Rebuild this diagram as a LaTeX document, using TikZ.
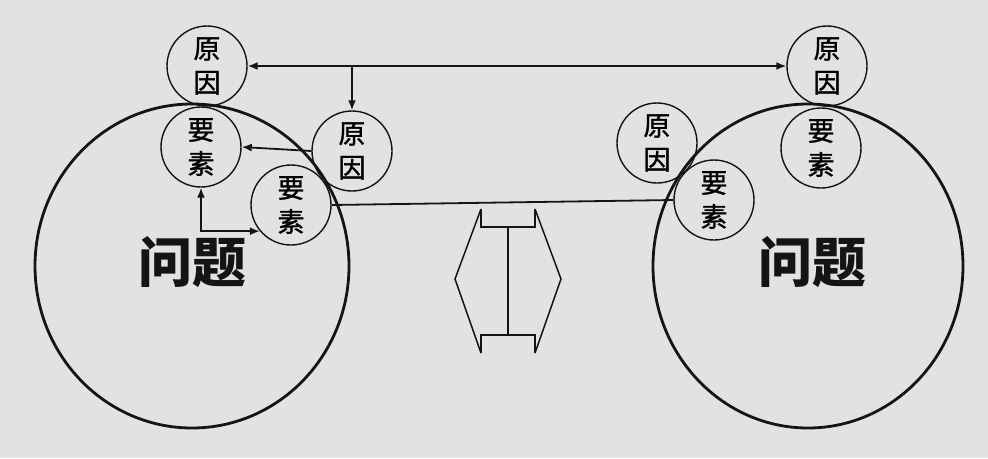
\documentclass[tikz,border=0pt]{standalone}
\usepackage{fontspec}
\newfontfamily\cjk{Noto Sans CJK SC}
\newfontfamily\cjkm[FakeBold=1.2]{Noto Sans CJK SC}
\usetikzlibrary{arrows.meta,shapes.geometric}
\definecolor{bg}{RGB}{226,226,226}
\definecolor{ink}{RGB}{20,20,20}
\tikzset{
  big/.style={draw=ink,ellipse,line width=2.8pt,minimum width=#1,minimum height=324pt,inner sep=0pt},
  small/.style={draw=ink,circle,line width=1.4pt,minimum size=80pt,inner sep=0pt,align=center,
    font=\cjkm\fontsize{27}{34}\selectfont},
  bigtext/.style={font=\cjk\bfseries\fontsize{54}{60}\selectfont,text=ink},
  conn/.style={draw=ink,line width=1.8pt},
  tip/.style={-{Latex[length=10pt,width=8pt]}},
  tips/.style={{Latex[length=10pt,width=8pt]}-{Latex[length=10pt,width=8pt]}},
  figline/.style={draw=ink,line width=1.5pt}
}
\begin{document}
\begin{tikzpicture}[x=1pt,y=-1pt]
\fill[bg] (0,0) rectangle (988,458);
\useasboundingbox (0,0) rectangle (988,458);
% big circles
\node[big=314pt] (L) at (192,266) {};
\node[big=310pt] (R) at (808,266) {};
\node[bigtext] (LT) at (192,262) {问题};
\node[bigtext] (RT) at (812,262) {问题};
% small circles
\node[small] (lc1) at (207,66) {原\\因};
\node[small] (le1) at (201,147) {要\\素};
\node[small] (lc2) at (352,151) {原\\因};
\node[small] (le2) at (291,205) {要\\素};
\node[small] (rc1) at (827,66) {原\\因};
\node[small] (re1) at (821,148) {要\\素};
\node[small] (rc2) at (657,143) {原\\因};
\node[small] (re2) at (714,200) {要\\素};
% connectors
\draw[conn,tips] (lc1.east) -- (rc1.west);
\coordinate (br) at (352,66);
\draw[conn,tip] (br) -- (lc2.north);
\draw[conn,tip] (lc2.west) -- (le1.east);
\draw[conn,tips] (le1.south) |- (le2.220);
\draw[conn] (le2.east) -- (re2.west);
% middle figure
\coordinate (a1) at (481,209);
\coordinate (a2) at (481,227);
\coordinate (a3) at (535,227);
\coordinate (a4) at (535,209);
\coordinate (b1) at (481,353);
\coordinate (b2) at (481,335);
\coordinate (b3) at (535,335);
\coordinate (b4) at (535,353);
\coordinate (ml) at (455,279);
\coordinate (mr) at (561,279);
\draw[figline] (a1) -- (a2) -- (a3) -- (a4);
\draw[figline] (b1) -- (b2) -- (b3) -- (b4);
\draw[figline] (a1) -- (ml) -- (b1);
\draw[figline] (a4) -- (mr) -- (b4);
\draw[draw=ink,line width=2.6pt] (508,227) -- (508,335);
\end{tikzpicture}
\end{document}
